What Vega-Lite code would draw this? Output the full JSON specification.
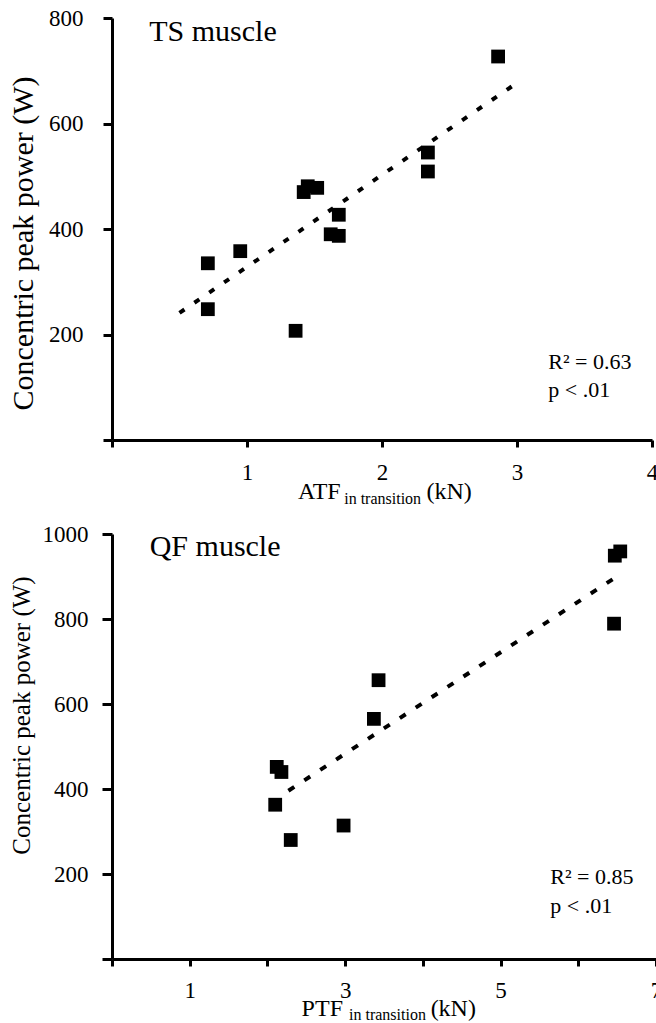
{
  "$schema": "https://vega.github.io/schema/vega-lite/v6.json",
  "background": "white",
  "padding": {"left": 8, "top": 7, "right": 0, "bottom": 0},
  "bounds": "flush",
  "spacing": 94,
  "config": {
    "view": {"stroke": null},
    "font": "Liberation Serif",
    "axis": {
      "domainColor": "black", "domainWidth": 3, "tickColor": "black", "tickWidth": 3,
      "labelColor": "black", "labelFont": "Liberation Serif", "labelFontSize": 23,
      "titleFont": "Liberation Serif", "titleFontWeight": "normal", "titleColor": "black",
      "grid": false, "labelFlush": false, "labelOverlap": false, "labelBound": false, "format": "d"
    }
  },
  "vconcat": [
    {
      "width": 540, "height": 422,
      "layer": [
        {
          "data": {"values": [{"force": 0.5, "power": 241}, {"force": 3.0, "power": 677}]},
          "mark": {"type": "line", "color": "black", "strokeWidth": 4, "strokeDash": [6, 12]},
          "encoding": {
            "x": {"field": "force", "type": "quantitative", "scale": {"domain": [0, 4], "nice": false},
              "axis": {"values": [0, 1, 2, 3, 4], "labelExpr": "datum.value == 0 ? '' : datum.label", "title": null, "tickSize": 7, "labelPadding": 14}},
            "y": {"field": "power", "type": "quantitative", "scale": {"domain": [0, 800], "nice": false},
              "axis": {"values": [0, 200, 400, 600, 800], "labelExpr": "datum.value == 0 ? '' : datum.label", "title": "Concentric peak power (W)", "tickSize": 9, "labelPadding": 20, "titleFontSize": 30, "titlePadding": 10, "titleY": 225}}
          }
        },
        {
          "data": {"values": [
            {"force": 0.71, "power": 335}, {"force": 0.71, "power": 248}, {"force": 0.95, "power": 358},
            {"force": 1.36, "power": 207}, {"force": 1.42, "power": 470}, {"force": 1.45, "power": 481},
            {"force": 1.52, "power": 478}, {"force": 1.68, "power": 427}, {"force": 1.62, "power": 390},
            {"force": 1.68, "power": 387}, {"force": 2.34, "power": 545}, {"force": 2.34, "power": 509},
            {"force": 2.86, "power": 727}
          ]},
          "mark": {"type": "point", "shape": "square", "filled": true, "color": "black", "size": 190, "opacity": 1},
          "encoding": {
            "x": {"field": "force", "type": "quantitative"},
            "y": {"field": "power", "type": "quantitative"}
          }
        },
        {
          "data": {"values": [{"label": "TS muscle"}]},
          "mark": {"type": "text", "fontSize": 30, "align": "left", "baseline": "alphabetic", "color": "black", "font": "Liberation Serif"},
          "encoding": {"x": {"datum": 0.276, "type": "quantitative"}, "y": {"datum": 757, "type": "quantitative"}, "text": {"field": "label"}}
        },
        {
          "data": {"values": [{"label": "R² = 0.63"}]},
          "mark": {"type": "text", "fontSize": 22, "align": "left", "baseline": "alphabetic", "color": "black", "font": "Liberation Serif"},
          "encoding": {"x": {"datum": 3.232, "type": "quantitative"}, "y": {"datum": 134, "type": "quantitative"}, "text": {"field": "label"}}
        },
        {
          "data": {"values": [{"label": "p < .01"}]},
          "mark": {"type": "text", "fontSize": 22, "align": "left", "baseline": "alphabetic", "color": "black", "font": "Liberation Serif"},
          "encoding": {"x": {"datum": 3.232, "type": "quantitative"}, "y": {"datum": 81, "type": "quantitative"}, "text": {"field": "label"}}
        },
        {
          "data": {"values": [{"label": "ATF"}]},
          "mark": {"type": "text", "fontSize": 24, "align": "left", "baseline": "alphabetic", "color": "black", "font": "Liberation Serif"},
          "encoding": {"x": {"datum": 1.378, "type": "quantitative"}, "y": {"datum": -112, "type": "quantitative"}, "text": {"field": "label"}}
        },
        {
          "data": {"values": [{"label": "in transition"}]},
          "mark": {"type": "text", "fontSize": 16, "align": "left", "baseline": "alphabetic", "color": "black", "font": "Liberation Serif"},
          "encoding": {"x": {"datum": 1.72, "type": "quantitative"}, "y": {"datum": -122, "type": "quantitative"}, "text": {"field": "label"}}
        },
        {
          "data": {"values": [{"label": "(kN)"}]},
          "mark": {"type": "text", "fontSize": 24, "align": "left", "baseline": "alphabetic", "color": "black", "font": "Liberation Serif"},
          "encoding": {"x": {"datum": 2.33, "type": "quantitative"}, "y": {"datum": -112, "type": "quantitative"}, "text": {"field": "label"}}
        }
      ]
    },
    {
      "width": 544, "height": 425,
      "layer": [
        {
          "data": {"values": [{"force": 2.27, "power": 396}, {"force": 6.48, "power": 898}]},
          "mark": {"type": "line", "color": "black", "strokeWidth": 4, "strokeDash": [7, 12]},
          "encoding": {
            "x": {"field": "force", "type": "quantitative", "scale": {"domain": [0, 7], "nice": false},
              "axis": {"values": [0, 1, 2, 3, 4, 5, 6, 7], "labelExpr": "datum.value % 2 == 1 ? datum.label : ''", "title": null, "tickSize": 7, "labelPadding": 13}},
            "y": {"field": "power", "type": "quantitative", "scale": {"domain": [0, 1000], "nice": false},
              "axis": {"values": [0, 200, 400, 600, 800, 1000], "labelExpr": "datum.value == 0 ? '' : datum.label", "title": "Concentric peak power (W)", "tickSize": 10, "labelPadding": 14, "titleFontSize": 25, "titlePadding": 8, "titleY": 181}}
          }
        },
        {
          "data": {"values": [
            {"force": 6.47, "power": 949}, {"force": 6.54, "power": 959}, {"force": 6.46, "power": 789},
            {"force": 3.43, "power": 656}, {"force": 3.37, "power": 565}, {"force": 2.98, "power": 314},
            {"force": 2.12, "power": 452}, {"force": 2.18, "power": 440}, {"force": 2.10, "power": 363},
            {"force": 2.30, "power": 280}
          ]},
          "mark": {"type": "point", "shape": "square", "filled": true, "color": "black", "size": 190, "opacity": 1},
          "encoding": {
            "x": {"field": "force", "type": "quantitative"},
            "y": {"field": "power", "type": "quantitative"}
          }
        },
        {
          "data": {"values": [{"label": "QF muscle"}]},
          "mark": {"type": "text", "fontSize": 30, "align": "left", "baseline": "alphabetic", "color": "black", "font": "Liberation Serif"},
          "encoding": {"x": {"datum": 0.485, "type": "quantitative"}, "y": {"datum": 949, "type": "quantitative"}, "text": {"field": "label"}}
        },
        {
          "data": {"values": [{"label": "R² = 0.85"}]},
          "mark": {"type": "text", "fontSize": 22, "align": "left", "baseline": "alphabetic", "color": "black", "font": "Liberation Serif"},
          "encoding": {"x": {"datum": 5.64, "type": "quantitative"}, "y": {"datum": 176.5, "type": "quantitative"}, "text": {"field": "label"}}
        },
        {
          "data": {"values": [{"label": "p < .01"}]},
          "mark": {"type": "text", "fontSize": 22, "align": "left", "baseline": "alphabetic", "color": "black", "font": "Liberation Serif"},
          "encoding": {"x": {"datum": 5.64, "type": "quantitative"}, "y": {"datum": 108, "type": "quantitative"}, "text": {"field": "label"}}
        },
        {
          "data": {"values": [{"label": "PTF"}]},
          "mark": {"type": "text", "fontSize": 24, "align": "left", "baseline": "alphabetic", "color": "black", "font": "Liberation Serif"},
          "encoding": {"x": {"datum": 2.44, "type": "quantitative"}, "y": {"datum": -134, "type": "quantitative"}, "text": {"field": "label"}}
        },
        {
          "data": {"values": [{"label": "in transition"}]},
          "mark": {"type": "text", "fontSize": 16, "align": "left", "baseline": "alphabetic", "color": "black", "font": "Liberation Serif"},
          "encoding": {"x": {"datum": 3.05, "type": "quantitative"}, "y": {"datum": -143, "type": "quantitative"}, "text": {"field": "label"}}
        },
        {
          "data": {"values": [{"label": "(kN)"}]},
          "mark": {"type": "text", "fontSize": 24, "align": "left", "baseline": "alphabetic", "color": "black", "font": "Liberation Serif"},
          "encoding": {"x": {"datum": 4.1, "type": "quantitative"}, "y": {"datum": -134, "type": "quantitative"}, "text": {"field": "label"}}
        }
      ]
    }
  ]
}
